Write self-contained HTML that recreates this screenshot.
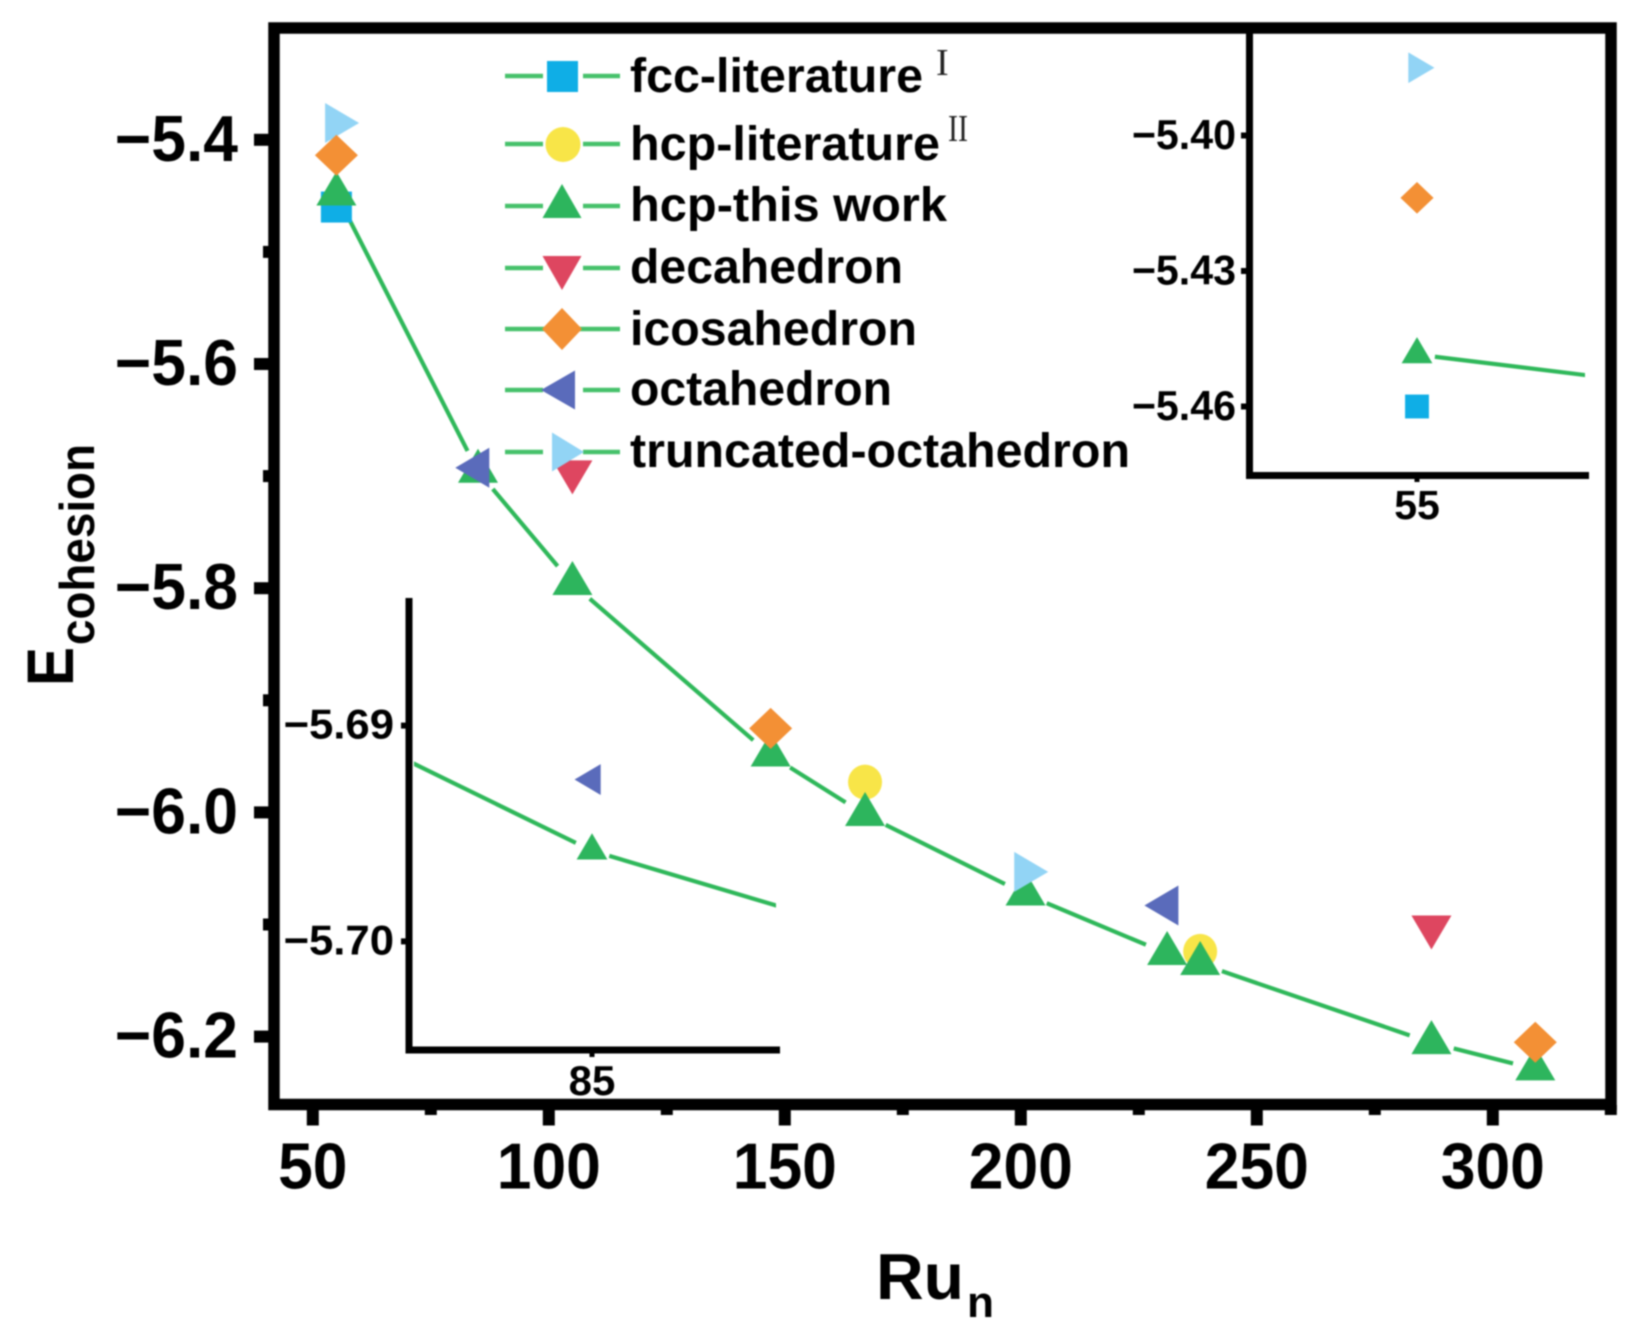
<!DOCTYPE html>
<html lang="en">
<head>
<meta charset="utf-8">
<title>Cohesive energy of Ru clusters</title>
<style>
html,body{margin:0;padding:0;background:#fff;}
html{overflow:hidden;}
body{position:relative;width:1637px;height:1340px;overflow:hidden;}
#stage{position:absolute;left:0;top:0;width:1637px;height:1340px;overflow:hidden;contain:strict;}
svg{position:absolute;left:0;top:0;display:block;overflow:hidden;}
#scene{filter:blur(0.9px);}
text{font-family:"Liberation Sans",Arial,sans-serif;fill:#000;}
.lg{font-size:48px;font-weight:700;}
.sup{font-family:"Liberation Serif",serif;font-size:38px;font-weight:400;fill:#222;}
</style>
</head>
<body>
<div id="stage">
<svg id="chart" width="1637" height="1340" viewBox="0 0 1637 1340" xmlns="http://www.w3.org/2000/svg">
  <defs>
    <clipPath id="clip-inset-a"><rect x="1253" y="35" width="332" height="437"/></clipPath>
    <clipPath id="clip-inset-b"><rect x="414" y="600" width="362" height="446"/></clipPath>
  </defs>
  <g id="scene">
  <g id="main-axes"></g>
  <g id="main-plot"></g>
  <rect x="274" y="28" width="1337" height="1076.500" fill="none" stroke="#000" stroke-width="11.500"/>
  <g id="inset-a"></g>
  <g id="inset-b"></g>

  <g>
    <text transform="translate(73,686) rotate(-90)" font-size="66" font-weight="700" textLength="39" lengthAdjust="spacingAndGlyphs">E</text>
    <text transform="translate(94,645) rotate(-90)" font-size="49" font-weight="700" textLength="201" lengthAdjust="spacingAndGlyphs">cohesion</text>
  </g>
  <g>
    <text x="876" y="1299" font-size="65" font-weight="700" textLength="88" lengthAdjust="spacingAndGlyphs">Ru</text>
    <text x="967" y="1317" font-size="44" font-weight="700" textLength="27" lengthAdjust="spacingAndGlyphs">n</text>
  </g>

  <g id="legend">
    <g>
      <path d="M505 76H543M583 76H620" stroke="#46C16B" stroke-width="4.500" fill="none"/>
      <rect x="547" y="61" width="31" height="31" fill="#0FAEE6"/>
      <text class="lg" x="630" y="92" textLength="293" lengthAdjust="spacingAndGlyphs">fcc-literature</text>
      <text class="sup" x="936" y="75">I</text>
    </g>
    <g>
      <path d="M505 144H543M583 144H620" stroke="#46C16B" stroke-width="4.500" fill="none"/>
      <ellipse cx="563" cy="144.500" rx="17.500" ry="17.500" fill="#F8E548"/>
      <text class="lg" x="630" y="160" textLength="310" lengthAdjust="spacingAndGlyphs">hcp-literature</text>
      <text class="sup" x="948" y="141" textLength="20" lengthAdjust="spacingAndGlyphs">II</text>
    </g>
    <g>
      <path d="M505 206H543M583 206H620" stroke="#46C16B" stroke-width="4.500" fill="none"/>
      <polygon points="562,184 581.500,218 542.500,218" fill="#2DB55D"/>
      <text class="lg" x="630" y="221" textLength="317" lengthAdjust="spacingAndGlyphs">hcp-this work</text>
    </g>
    <g>
      <path d="M505 268H543M583 268H620" stroke="#46C16B" stroke-width="4.500" fill="none"/>
      <polygon points="542.500,256 581.500,256 562,290" fill="#DE4660"/>
      <text class="lg" x="630" y="283" textLength="273" lengthAdjust="spacingAndGlyphs">decahedron</text>
    </g>
    <g>
      <path d="M505 329H620" stroke="#46C16B" stroke-width="4.500" fill="none"/>
      <polygon points="562,308 582,329 562,350 542,329" fill="#F39035"/>
      <text class="lg" x="630" y="345" textLength="287" lengthAdjust="spacingAndGlyphs">icosahedron</text>
    </g>
    <g>
      <path d="M505 390H543M583 390H620" stroke="#46C16B" stroke-width="4.500" fill="none"/>
      <polygon points="541,390 575,370.500 575,409.500" fill="#5A6BBB"/>
      <text class="lg" x="630" y="405" textLength="262" lengthAdjust="spacingAndGlyphs">octahedron</text>
    </g>
    <g>
      <path d="M505 452H543M583 452H620" stroke="#46C16B" stroke-width="4.500" fill="none"/>
      <polygon points="552,432.500 552,471.500 584,452" fill="#92D4F5"/>
      <text class="lg" x="630" y="467" textLength="500" lengthAdjust="spacingAndGlyphs">truncated-octahedron</text>
    </g>
  </g>
  </g>
</svg>
</div>
<script>
// Data (cluster size n, cohesive energy per series)
const hcpSizes = [55, 85, 105, 147, 167, 201, 231, 238, 287, 309];
const hcpEnergies = [-5.4485, -5.6958, -5.796, -5.949, -6.002, -6.073, -6.126, -6.135, -6.2055, -6.229];
const fccSizes = [55];
const fccEnergies = [-5.46];
const hcpLitSizes = [167, 238];
const hcpLitEnergies = [-5.973, -6.124];
const decaSizes = [105, 287];
const decaEnergies = [-5.696, -6.102];
const truncSizes = [55, 201];
const truncEnergies = [-5.385, -6.053];
const octaSizes = [85, 231];
const octaEnergies = [-5.6925, -6.083];
const icosaSizes = [55, 147, 309];
const icosaEnergies = [-5.4138, -5.925, -6.205];

// Tick values
const xMajorTicks = [50, 100, 150, 200, 250, 300];
const xMinorTicks = [75, 125, 175, 225, 275, 325];
const yMajorTicks = [-5.4, -5.6, -5.8, -6.0, -6.2];
const yMinorTicks = [-5.5, -5.7, -5.9, -6.1];
const insetAYTicks = [-5.40, -5.43, -5.46];
const insetAXTicks = [55];
const insetBYTicks = [-5.69, -5.70];
const insetBXTicks = [85];

const NS = 'http://www.w3.org/2000/svg';
function mk(tag, parent, attrs) {
  const el = document.createElementNS(NS, tag);
  for (const k in attrs) el.setAttribute(k, attrs[k]);
  parent.appendChild(el);
  return el;
}
function fmt(v, d) { return v.toFixed(d).replace('-', '\u2212'); }

// Axis functions
const xMain = v => 312.8 + (v - 50) * 4.72;
const yMain = v => 139.8 + (-5.4 - v) / 0.2 * 224.2;
const xInsetA = v => 1417 + (v - 55) * 305;
const yInsetA = v => 135.5 + (-5.40 - v) / 0.03 * 135.5;
const xInsetB = v => 592 + (v - 85) * 364;
const yInsetB = v => 725.6 + (-5.69 - v) / 0.01 * 215.8;

const colors = {fcc:'#0FAEE6', hcpLit:'#F8E548', hcp:'#2DB55D', deca:'#DE4660', trunc:'#92D4F5', octa:'#5A6BBB', icosa:'#F39035'};
const drawOrder = [
  {name:'fcc-literature', shape:'square', color:colors.fcc, xs:fccSizes, ys:fccEnergies},
  {name:'hcp-literature', shape:'circle', color:colors.hcpLit, xs:hcpLitSizes, ys:hcpLitEnergies},
  {name:'hcp-this-work', shape:'up', color:colors.hcp, xs:hcpSizes, ys:hcpEnergies},
  {name:'decahedron', shape:'down', color:colors.deca, xs:decaSizes, ys:decaEnergies},
  {name:'truncated-octahedron', shape:'right', color:colors.trunc, xs:truncSizes, ys:truncEnergies},
  {name:'octahedron', shape:'left', color:colors.octa, xs:octaSizes, ys:octaEnergies},
  {name:'icosahedron', shape:'diamond', color:colors.icosa, xs:icosaSizes, ys:icosaEnergies}
];

function drawMarker(parent, shape, color, cx, cy, s) {
  const w = 20 * s, a = 22.7 * s, b = 11.3 * s;
  if (shape === 'square') {
    return mk('rect', parent, {x:cx - 15.5 * s, y:cy - 15.5 * s, width:31 * s, height:31 * s, fill:color});
  }
  if (shape === 'circle') {
    return mk('ellipse', parent, {cx:cx, cy:cy, rx:17 * s, ry:17.5 * s, fill:color});
  }
  let pts;
  if (shape === 'up') pts = [[cx, cy - a], [cx + w, cy + b], [cx - w, cy + b]];
  if (shape === 'down') pts = [[cx, cy + a], [cx + w, cy - b], [cx - w, cy - b]];
  if (shape === 'left') pts = [[cx - a, cy], [cx + b, cy - w], [cx + b, cy + w]];
  if (shape === 'right') pts = [[cx + a, cy], [cx - b, cy - w], [cx - b, cy + w]];
  if (shape === 'diamond') pts = [[cx, cy - 20.5 * s], [cx + 21.5 * s, cy], [cx, cy + 20.5 * s], [cx - 21.5 * s, cy]];
  return mk('polygon', parent, {points:pts.map(p => p.join(',')).join(' '), fill:color});
}

function drawSeries(parent, xf, yf, s, gap, xMin, xMax, clipId) {
  const lineGroup = mk('g', parent, {});
  
  
  if (clipId) lineGroup.setAttribute('clip-path', 'url(#' + clipId + ')');
  for (let i = 0; i + 1 < hcpSizes.length; i++) {
    const x1 = xf(hcpSizes[i]), y1 = yf(hcpEnergies[i]);
    const x2 = xf(hcpSizes[i + 1]), y2 = yf(hcpEnergies[i + 1]);
    const d = Math.hypot(x2 - x1, y2 - y1);
    if (d <= 2 * gap) continue;
    const ux = (x2 - x1) / d, uy = (y2 - y1) / d;
    const seg = mk('line', lineGroup, {x1:x1 + ux * gap, y1:y1 + uy * gap, x2:x2 - ux * gap, y2:y2 - uy * gap, stroke:'#2FB85A', 'stroke-width':4.2});
    
    
  }
  drawOrder.forEach(series => {
    series.xs.forEach((n, i) => {
      if (n < xMin || n > xMax) return;
      const m = drawMarker(parent, series.shape, series.color, xf(n), yf(series.ys[i]), s);
      
      
    });
  });
}

function drawLabel(parent, str, x, y, size, anchor, sx) {
  const t = mk('text', parent, {transform:'translate(' + x + ',' + y + ') scale(' + sx + ',1)', 'font-size':size, 'font-weight':700, 'text-anchor':anchor});
  t.textContent = str;
  return t;
}

// Main axes
const mainAxes = document.getElementById('main-axes');
xMajorTicks.forEach(v => {
  const t = mk('rect', mainAxes, {x:xMain(v) - 6, y:1105, width:12, height:20.5, fill:'#000'});
  
  
  const l = drawLabel(mainAxes, String(v), xMain(v), 1188.5, 65, 'middle', 0.96);
  
  
});
xMinorTicks.forEach(v => {
  const t = mk('rect', mainAxes, {x:xMain(v) - 6, y:1105, width:12, height:10, fill:'#000'});
  
  
});
yMajorTicks.forEach(v => {
  const t = mk('rect', mainAxes, {x:254, y:yMain(v) - 6, width:20, height:12, fill:'#000'});
  
  
  const l = drawLabel(mainAxes, fmt(v, 1), 238, yMain(v) + 21, 65, 'end', 0.96);
  
  
});
yMinorTicks.forEach(v => {
  const t = mk('rect', mainAxes, {x:263, y:yMain(v) - 6, width:10, height:12, fill:'#000'});
  
  
});

// Main plot
drawSeries(document.getElementById('main-plot'), xMain, yMain, 1, 23, 0, 1000, null);

// Inset for n = 55
const insetA = document.getElementById('inset-a');
const insetAAxes = mk('path', insetA, {d:'M1249.5 28V475.5H1589', fill:'none', stroke:'#000', 'stroke-width':7});


insetAYTicks.forEach(v => {
  const t = mk('rect', insetA, {x:1241, y:yInsetA(v) - 3, width:5, height:6, fill:'#000'});
  
  
  const l = drawLabel(insetA, fmt(v, 2), 1236, yInsetA(v) + 13.5, 42, 'end', 0.98);
  
  
});
insetAXTicks.forEach(v => {
  const t = mk('rect', insetA, {x:xInsetA(v) - 2.5, y:478, width:5, height:4, fill:'#000'});
  
  
  const l = drawLabel(insetA, String(v), xInsetA(v), 519, 41, 'middle', 1);
  
  
});
drawSeries(insetA, xInsetA, yInsetA, 0.77, 18, 54.5, 55.5, 'clip-inset-a');

// Inset for n = 85
const insetB = document.getElementById('inset-b');
const insetBAxes = mk('path', insetB, {d:'M409 598V1050H780', fill:'none', stroke:'#000', 'stroke-width':7});


insetBYTicks.forEach(v => {
  const t = mk('rect', insetB, {x:401, y:yInsetB(v) - 3, width:5, height:6, fill:'#000'});
  
  
  const l = drawLabel(insetB, fmt(v, 2), 394, yInsetB(v) + 13, 42, 'end', 1.04);
  
  
});
insetBXTicks.forEach(v => {
  const t = mk('rect', insetB, {x:xInsetB(v) - 2.5, y:1053, width:5, height:4, fill:'#000'});
  
  
  const l = drawLabel(insetB, String(v), xInsetB(v), 1095, 42, 'middle', 1);
  
  
});
drawSeries(insetB, xInsetB, yInsetB, 0.77, 18, 84.5, 85.5, 'clip-inset-b');
</script>
</body>
</html>
